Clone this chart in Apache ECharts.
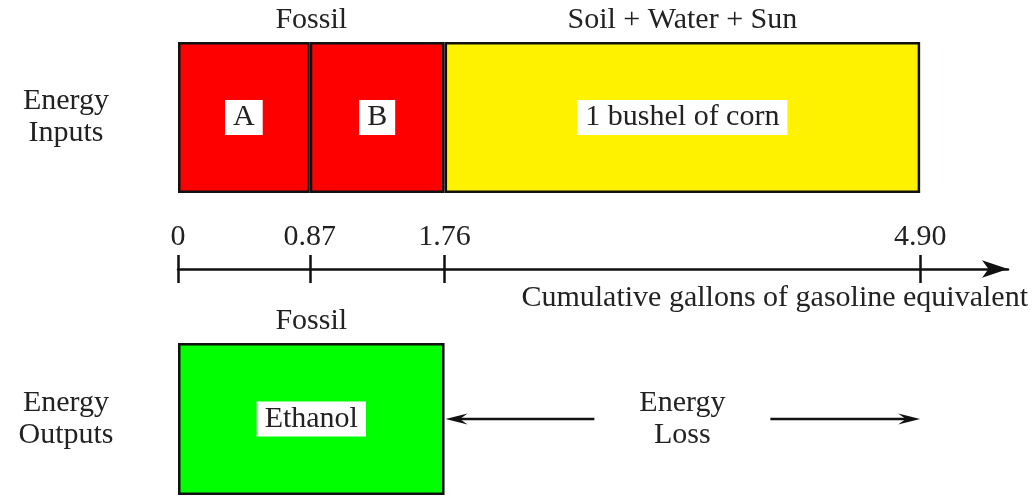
<!DOCTYPE html>
<html>
<head>
<meta charset="utf-8">
<script src="https://cdn.jsdelivr.net/npm/echarts@6/dist/echarts.min.js"></script>
<style>
  html, body { margin: 0; padding: 0; background: #fff; }
  #chart { width: 1034px; height: 500px; }
</style>
</head>
<body>
<div id="chart"></div>
<script>
// gallons of gasoline equivalent for each part of the energy balance
var inputParts = ['A', 'B', '1 bushel of corn'];
var inputGallons = [0.87, 0.89, 3.14];
var outputParts = ['Ethanol'];
var outputGallons = [1.76];
var tickValues = [0, 0.87, 1.76, 4.90];
var inputGroups = ['Fossil', 'Soil + Water + Sun'];
var inputGroupRanges = [[0, 1.76], [1.76, 4.90]];
var outputGroups = ['Fossil'];
var outputGroupRanges = [[0, 1.76]];
var lossRange = [1.76, 4.90];
var rowNames = ['Energy\nInputs', 'Energy\nOutputs'];

var inputColors = ['#ff0000', '#ff0000', '#fff200'];
var outputColors = ['#00ff00'];
var FONT = 'Liberation Serif';
var FS = 30;
var INK = '#222';
var AXMAX = 5.48;

var chart = echarts.init(document.getElementById('chart'));

function barSeries(names, values, colors, axis, stack) {
	return names.map(function (n, i) {
		return {
			name: n,
			type: 'bar',
			xAxisIndex: axis,
			yAxisIndex: axis,
			stack: stack,
			barWidth: '100%',
			silent: true,
			data: [values[i]],
			itemStyle: { color: colors[i], borderColor: '#111', borderWidth: 2.5 },
			label: {
				show: true,
				position: 'inside',
				formatter: n,
				backgroundColor: '#fff',
				padding: [3, 8, 2, 8],
				fontFamily: FONT,
				fontSize: FS,
				color: INK
			}
		};
	});
}

function groupSeries(names, ranges, axis) {
	return {
		type: 'custom',
		xAxisIndex: axis,
		yAxisIndex: axis,
		clip: false,
		silent: true,
		data: ranges,
		renderItem: function (params, api) {
			var a = api.coord([api.value(0), 0]);
			var b = api.coord([api.value(1), 0]);
			var h = api.size([0, 1])[1];
			return {
				type: 'text',
				style: {
					x: (a[0] + b[0]) / 2,
					y: a[1] - h / 2 - 7,
					text: names[params.dataIndex],
					align: 'center',
					verticalAlign: 'bottom',
					fontFamily: FONT,
					fontSize: FS,
					fill: INK
				}
			};
		}
	};
}

function arrowHead(tx, ty, dir) {
	var L = 22, H = 5.5;
	return {
		type: 'polygon',
		shape: { points: [[tx, ty], [tx - dir * L, ty - H], [tx - dir * L * 0.65, ty], [tx - dir * L, ty + H]] },
		style: { fill: '#111' }
	};
}

var lossSeries = {
	type: 'custom',
	xAxisIndex: 3,
	yAxisIndex: 3,
	clip: false,
	silent: true,
	data: [lossRange],
	renderItem: function (params, api) {
		var a = api.coord([api.value(0), 0]);
		var b = api.coord([api.value(1), 0]);
		var y = a[1];
		var mid = (a[0] + b[0]) / 2;
		var gap = 88;
		var line = { stroke: '#111', lineWidth: 2.5 };
		return {
			type: 'group',
			children: [
				{ type: 'line', shape: { x1: mid - gap, y1: y, x2: a[0] + 12, y2: y }, style: line },
				arrowHead(a[0] + 1, y, -1),
				{ type: 'line', shape: { x1: mid + gap, y1: y, x2: b[0] - 12, y2: y }, style: line },
				arrowHead(b[0], y, 1),
				{
					type: 'text',
					style: {
						x: mid, y: y,
						text: 'Energy\nLoss',
						align: 'center',
						verticalAlign: 'middle',
						lineHeight: 32,
						fontFamily: FONT,
						fontSize: FS,
						fill: INK
					}
				}
			]
		};
	}
};

function hiddenX(grid) {
	return { type: 'value', gridIndex: grid, min: 0, max: AXMAX, show: false };
}

function rowY(grid, label) {
	return {
		type: 'category',
		gridIndex: grid,
		data: [label],
		axisLine: { show: false },
		axisTick: { show: false },
		axisLabel: {
			show: label !== '',
			align: 'center',
			margin: 112,
			fontFamily: FONT,
			fontSize: FS,
			lineHeight: 32,
			color: INK
		}
	};
}

var fmt = function (v) { return v === 0 ? '0' : v.toFixed(2); };

var option = {
	backgroundColor: '#fff',
	animation: false,
	grid: [
		{ left: 178, top: 42, width: 830, height: 151 },
		{ left: 178, top: 229, width: 830, height: 40 },
		{ left: 178, top: 343, width: 830, height: 152 }
	],
	xAxis: [
		hiddenX(0),
		{
			type: 'value',
			gridIndex: 1,
			min: 0,
			max: AXMAX,
			position: 'bottom',
			name: 'Cumulative gallons of gasoline equivalent',
			nameLocation: 'end',
			nameGap: 20,
			nameTextStyle: {
				align: 'right',
				verticalAlign: 'top',
				padding: [14, 0, 0, 0],
				fontFamily: FONT,
				fontSize: FS,
				color: INK
			},
			axisLine: {
				show: true,
				symbol: ['none', 'arrow'],
				symbolSize: [13, 26],
				lineStyle: { color: '#111', width: 2.5 }
			},
			axisTick: {
				show: true,
				length: 14,
				customValues: tickValues,
				lineStyle: { color: '#111', width: 2.5 }
			},
			axisLabel: {
				inside: true,
				margin: 17,
				customValues: tickValues,
				formatter: fmt,
				fontFamily: FONT,
				fontSize: FS,
				color: INK
			},
			splitLine: { show: false }
		},
		{
			type: 'value',
			gridIndex: 1,
			min: 0,
			max: AXMAX,
			position: 'bottom',
			offset: 0,
			axisLine: { show: false },
			axisTick: {
				show: true,
				inside: true,
				length: 14,
				customValues: tickValues,
				lineStyle: { color: '#111', width: 2.5 }
			},
			axisLabel: { show: false, customValues: tickValues },
			splitLine: { show: false }
		},
		hiddenX(2)
	],
	yAxis: [
		rowY(0, rowNames[0]),
		{ type: 'value', gridIndex: 1, show: false },
		{ type: 'value', gridIndex: 1, show: false },
		rowY(2, rowNames[1])
	],
	series: []
		.concat(barSeries(inputParts, inputGallons, inputColors, 0, 'in'))
		.concat(barSeries(outputParts, outputGallons, outputColors, 3, 'out'))
		.concat([
			groupSeries(inputGroups, inputGroupRanges, 0),
			groupSeries(outputGroups, outputGroupRanges, 3),
			lossSeries
		])
};

chart.setOption(option);
</script>
</body>
</html>
